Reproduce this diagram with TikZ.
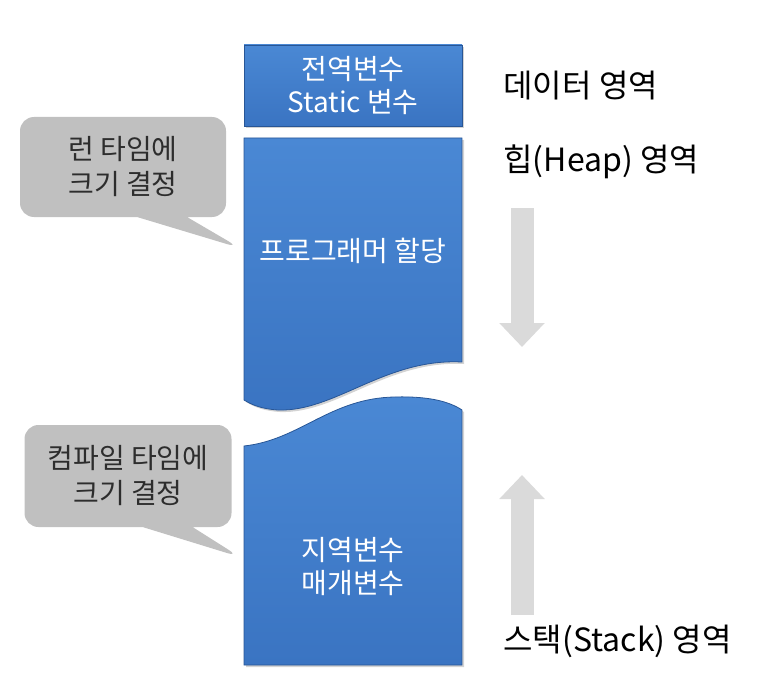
\documentclass[tikz,border=0pt]{standalone}
\usepackage{fontspec}
\newfontfamily\kr{Noto Sans CJK KR}
\usetikzlibrary{shapes.callouts, arrows.meta, shadows}
\definecolor{blockblue}{RGB}{58,116,194}
\definecolor{blocktop}{RGB}{74,136,212}
\definecolor{blockedge}{RGB}{40,86,150}
\definecolor{bubble}{RGB}{192,192,192}
\definecolor{bubbletext}{RGB}{45,45,45}
\definecolor{flow}{RGB}{218,218,218}

\begin{document}
\begin{tikzpicture}[x=1pt, y=-1pt,
  block/.style={draw=blockedge, line width=0.8pt, top color=blocktop, bottom color=blockblue, drop shadow={opacity=0.35, shadow xshift=2pt, shadow yshift=-2pt}},
  blocktext/.style={text=white, align=center, font=\kr\fontsize{28}{33}\selectfont},
  note/.style={rectangle callout, rounded corners=14pt, fill=bubble, text=bubbletext, align=center, font=\kr\fontsize{28}{35}\selectfont, callout pointer width=50pt},
  area/.style={anchor=west, font=\kr\fontsize{32}{36}\selectfont},
  flowarr/.style={draw=flow, line width=23pt, -{Triangle[width=44pt, length=24pt]}}
]
\useasboundingbox (0,0) rectangle (776,698);

% blocks
\path[block] (244,45) rectangle (462,126);
\path[block] (244,138) -- (462,138) -- (462,362)
  .. controls (385,358) and (335,412) .. (278,410)
  .. controls (262,409) and (252,405) .. (244,400) -- cycle;
\path[block] (244,446) .. controls (300,440) and (330,398) .. (395,397)
  .. controls (430,396) and (450,402) .. (462,410)
  -- (462,665) -- (244,665) -- cycle;

\node[blocktext] (data) at (353,86) {전역변수\\Static 변수};
\node[blocktext] (heap) at (353,251) {프로그래머 할당};
\node[blocktext] (stack) at (353,567) {지역변수\\매개변수};

% callouts
\coordinate (tip1) at (240,248);
\coordinate (tip2) at (240,557);
\node[note, minimum width=206pt, minimum height=100pt, callout absolute pointer={(tip1)}] (runtime) at (123,167) {런 타임에\\크기 결정};
\node[note, minimum width=207pt, minimum height=102pt, callout absolute pointer={(tip2)}] (compile) at (128,476) {컴파일 타임에\\크기 결정};

% area labels
\node[area] (dataarea) at (500,86) {데이터 영역};
\node[area] (heaparea) at (500,162) {힙(Heap) 영역};
\node[area] (stackarea) at (500,641) {스택(Stack) 영역};

% growth arrows
\coordinate (h1) at (522,208);
\coordinate (h2) at (522,347);
\coordinate (s1) at (522,615);
\coordinate (s2) at (522,475);
\draw[flowarr] (h1) -- (h2);
\draw[flowarr] (s1) -- (s2);
\end{tikzpicture}
\end{document}
